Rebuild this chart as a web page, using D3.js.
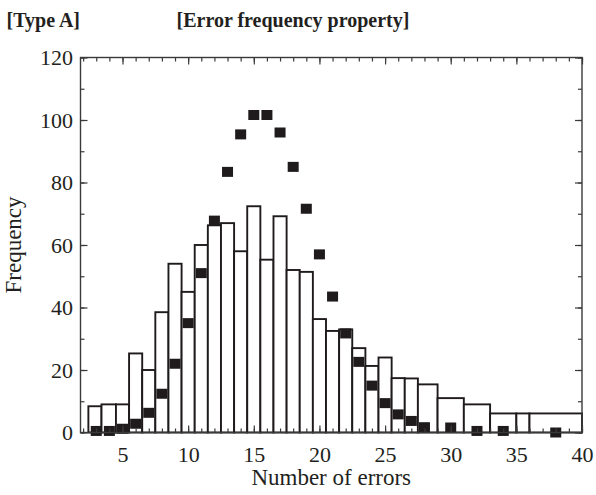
<!DOCTYPE html>
<html>
<head>
<meta charset="utf-8">
<script src="https://cdn.jsdelivr.net/npm/d3@7"></script>
<style>
  body { margin: 0; background: #fff; }
  text { font-family: "Liberation Serif", "Times New Roman", serif; fill: #231f20; }
</style>
</head>
<body>
<script>
// Measured histogram: bin edges (number of errors) and frequency of each bin
const binEdges = [2.4, 3.4, 4.5, 5.5, 6.5, 7.5, 8.5, 9.5, 10.5, 11.5, 12.5, 13.5, 14.5,
  15.5, 16.5, 17.5, 18.5, 19.5, 20.5, 21.5, 22.5, 23.5, 24.5, 25.5, 26.5, 27.5,
  29, 31, 33, 35, 36, 40];
const measuredFreq = [8.4, 9, 9, 25.3, 20, 38.5, 54, 45, 60, 66.3, 67, 58, 72.4,
  55.3, 69.2, 52, 51.4, 36.3, 32.5, 33, 27, 21.3, 24, 17.4, 17.3,
  15.4, 11, 9, 6.1, 6.1, 6.1];

// Simulated frequency (black squares)
const errorCounts = [3, 4, 5, 6, 7, 8, 9, 10, 11, 12, 13, 14, 15, 16, 17, 18, 19, 20,
  21, 22, 23, 24, 25, 26, 27, 28, 30, 32, 34, 38];
const simulatedFreq = [0.5, 0.5, 1.2, 2.8, 6.3, 12.4, 22, 35, 51, 67.8, 83.4, 95.4,
  101.6, 101.6, 96, 85, 71.6, 57, 43.5, 31.7, 22.6, 15, 9.4, 5.8, 3.7, 1.7, 1.6, 0.5, 0.5, 0];

// Tick labels
const xTickLabels = [5, 10, 15, 20, 25, 30, 35, 40];
const yTickLabels = [0, 20, 40, 60, 80, 100, 120];

const width = 596;
const height = 495;
const plot = { left: 80.5, right: 582, top: 57.5, bottom: 432.5 };
const ink = "#1f1b1c";

const svg = d3
  .select("body")
  .append("svg")
  .attr("width", width)
  .attr("height", height);

const x = d3.scaleLinear().domain([1.8, 40]).range([plot.left, plot.right]);
const y = d3.scaleLinear().domain([0, 120]).range([plot.bottom, plot.top]);

// Histogram bars (white with dark outline)
const bins = measuredFreq.map((f, i) => ({ x0: binEdges[i], x1: binEdges[i + 1], f }));
svg
  .selectAll(".bar")
  .data(bins)
  .enter()
  .append("rect")
  .attr("class", "bar")
  .attr("x", (d) => x(d.x0))
  .attr("y", (d) => y(d.f))
  .attr("width", (d) => x(d.x1) - x(d.x0))
  .attr("height", (d) => y(0) - y(d.f))
  .attr("fill", "#fff")
  .attr("stroke", ink)
  .attr("stroke-width", 1.9);

// Black squares
const sqW = 11;
const sqH = 10;
svg
  .selectAll(".pt")
  .data(errorCounts)
  .enter()
  .append("rect")
  .attr("class", "pt")
  .attr("x", (d) => x(d) - sqW / 2)
  .attr("y", (d, i) => y(simulatedFreq[i]) - sqH / 2)
  .attr("width", sqW)
  .attr("height", sqH)
  .attr("fill", ink);

// Axes: ticks point inward on all four sides
function styleAxis(g) {
  g.select(".domain").remove();
  g.selectAll("line").attr("stroke", "#3a3a3a").attr("stroke-width", 1.2);
  g.selectAll("text").style("font-size", "22px").attr("fill", ink);
}

const minorX = d3.range(2, 41);
const minorY = d3.range(0, 121, 10);

// bottom
svg.append("g")
  .attr("transform", `translate(0,${plot.bottom})`)
  .call(d3.axisBottom(x).tickValues(minorX).tickSize(-4).tickFormat(""))
  .call(styleAxis);
svg.append("g")
  .attr("transform", `translate(0,${plot.bottom})`)
  .call(d3.axisBottom(x).tickValues(xTickLabels).tickSize(-7).tickPadding(0))
  .call(styleAxis)
  .selectAll("text")
  .attr("y", 29.5)
  .attr("dy", 0);

// top
svg.append("g")
  .attr("transform", `translate(0,${plot.top})`)
  .call(d3.axisTop(x).tickValues(minorX).tickSize(-4).tickFormat(""))
  .call(styleAxis);
svg.append("g")
  .attr("transform", `translate(0,${plot.top})`)
  .call(d3.axisTop(x).tickValues(xTickLabels).tickSize(-7).tickFormat(""))
  .call(styleAxis);

// left
svg.append("g")
  .attr("transform", `translate(${plot.left},0)`)
  .call(d3.axisLeft(y).tickValues(minorY).tickSize(-4).tickFormat(""))
  .call(styleAxis);
svg.append("g")
  .attr("transform", `translate(${plot.left},0)`)
  .call(d3.axisLeft(y).tickValues(yTickLabels).tickSize(-7).tickPadding(7.5))
  .call(styleAxis);

// right
svg.append("g")
  .attr("transform", `translate(${plot.right},0)`)
  .call(d3.axisRight(y).tickValues(minorY).tickSize(-4).tickFormat(""))
  .call(styleAxis);
svg.append("g")
  .attr("transform", `translate(${plot.right},0)`)
  .call(d3.axisRight(y).tickValues(yTickLabels).tickSize(-7).tickFormat(""))
  .call(styleAxis);

// Frame
svg.append("rect")
  .attr("x", plot.left)
  .attr("y", plot.top)
  .attr("width", plot.right - plot.left)
  .attr("height", plot.bottom - plot.top)
  .attr("fill", "none")
  .attr("stroke", "#3a3a3a")
  .attr("stroke-width", 1.4);

// Axis titles
svg.append("text")
  .attr("x", (plot.left + plot.right) / 2)
  .attr("y", 485)
  .attr("text-anchor", "middle")
  .style("font-size", "23px")
  .text("Number of errors");

svg.append("text")
  .attr("transform", `translate(21,${(plot.top + plot.bottom) / 2}) rotate(-90)`)
  .attr("text-anchor", "middle")
  .style("font-size", "23px")
  .text("Frequency");

// Headings
svg.append("text")
  .attr("x", 6.5)
  .attr("y", 27)
  .style("font-size", "20px")
  .style("font-weight", "bold")
  .text("[Type A]");

svg.append("text")
  .attr("x", 176.5)
  .attr("y", 27)
  .style("font-size", "20px")
  .style("font-weight", "bold")
  .text("[Error frequency property]");
</script>
</body>
</html>
